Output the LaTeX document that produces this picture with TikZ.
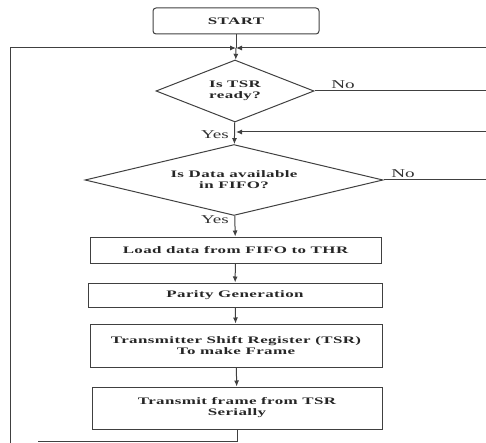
\documentclass[tikz,border=0pt]{standalone}
\usepackage{fontspec}
\newfontfamily\chartfont[FakeStretch=1.7, LetterSpace=4]{Liberation Serif}
\newfontfamily\tagfont[FakeStretch=1.6]{Liberation Serif}
\usetikzlibrary{shapes.geometric,arrows.meta}
\tikzset{>={Latex[length=6bp,width=5bp]},
	box/.style={draw=black!75, line width=1bp, text=black!85, font=\chartfont\bfseries\fontsize{10}{11}\selectfont, align=center, inner sep=0pt},
	procbox/.style={box, rectangle, minimum width=#1},
	decision/.style={box, diamond, aspect=2.4},
	tag/.style={text=black!80, font=\tagfont\fontsize{12}{13}\selectfont, inner sep=0pt},
	flow/.style={draw=black!75, line width=1bp}}

\begin{document}
\begin{tikzpicture}[x=1bp, y=-1bp]
		%%%%% START %%%%%
		\useasboundingbox (0, 0) rectangle (486, 443);
		
		\node[box, rounded corners=3bp, minimum width=166bp, minimum height=26bp] (start) at (236, 21) {START};
		\coordinate (top) at (236, 48);
		
		\node[decision, minimum width=158bp, minimum height=62bp] (tsrready) at (235, 91) {Is TSR\\ready?};
		\coordinate (back) at (236, 132);
		\node[decision, minimum width=298bp, minimum height=64bp] (fifo) at (234, 180) {Is Data available\\in FIFO?};
		
		\node[procbox=291bp, minimum height=26bp] (load) at (235.5, 250) {Load data from FIFO to THR};
		\node[procbox=294bp, minimum height=24bp] (parity) at (235, 295) {Parity Generation};
		\node[procbox=292bp, minimum height=43bp] (shift) at (236, 345.5) {Transmitter Shift Register (TSR)\\To make Frame};
		\node[procbox=290bp, minimum height=42bp] (send) at (237, 408) {Transmit frame from TSR\\Serially};
		
		\node[tag] (no1) at (343, 85) {No};
		\node[tag] (no2) at (403, 174) {No};
		\node[tag] (yes1) at (215, 135) {Yes};
		\node[tag] (yes2) at (215, 220) {Yes};
		
		% main path
		\draw[flow] (start) -- (top);
		\draw[flow, ->] (top) -- (tsrready);
		\draw[flow, ->] (tsrready) -- (fifo);
		\draw[flow, ->] (fifo) -- (load);
		\draw[flow, ->] (load) -- (parity);
		\draw[flow, ->] (parity) -- (shift);
		\draw[flow, ->] (shift) -- (send);
		
		% loops
		\draw[flow, ->] (486, 48) -- (top);
		\draw[flow, ->] (10, 443) |- (top);
		\draw[flow] (tsrready.east) -- (486, 91);
		\draw[flow, ->] (486, 132) -- (back);
		\draw[flow] (fifo.east) -- (486, 180);
		\draw[flow] (send.south) |- (38, 441);
		
		%%%%% END %%%%%
	\end{tikzpicture}
\end{document}
